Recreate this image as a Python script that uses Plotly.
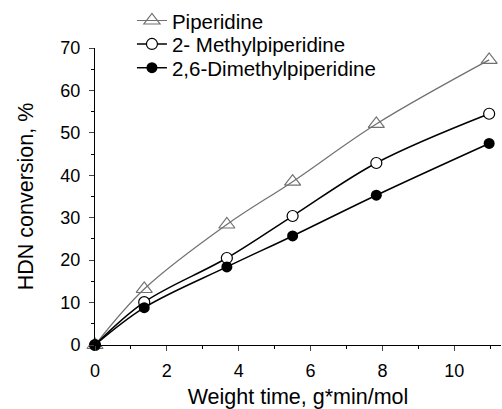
import plotly.graph_objects as go

weight_time = [0, 1.37, 3.67, 5.5, 7.83, 10.97]
piperidine = [0, 13.2, 28.4, 38.5, 52.1, 67.2]
methylpiperidine = [0, 10.1, 20.5, 30.4, 42.9, 54.5]
dimethylpiperidine = [0, 8.8, 18.4, 25.7, 35.3, 47.5]

names = ["Piperidine", "2- Methylpiperidine", "2,6-Dimethylpiperidine"]
x_ticks = [0, 2, 4, 6, 8, 10]
y_ticks = [0, 10, 20, 30, 40, 50, 60, 70]

fig = go.Figure()
fig.add_trace(go.Scatter(
    x=weight_time, y=piperidine, name=names[0], mode="lines+markers",
    line=dict(color="#707070", width=1.2, shape="spline"),
    marker=dict(symbol="triangle-up-open", size=14, color="#707070", line=dict(width=1.2)),
    cliponaxis=False, legend="legend"))
fig.add_trace(go.Scatter(
    x=weight_time, y=methylpiperidine, name=names[1], mode="lines+markers",
    line=dict(color="black", width=1.5, shape="spline"),
    marker=dict(symbol="circle", size=11, color="white", line=dict(width=1.2, color="black")),
    cliponaxis=False, legend="legend2"))
fig.add_trace(go.Scatter(
    x=weight_time, y=dimethylpiperidine, name=names[2], mode="lines+markers",
    line=dict(color="black", width=1.5, shape="spline"),
    marker=dict(symbol="circle", size=11, color="black"),
    cliponaxis=False, legend="legend3"))

font_family = "Liberation Sans, Arial, sans-serif"
leg_common = dict(x=0.091, xanchor="left", yanchor="middle",
                  bgcolor="rgba(0,0,0,0)", font=dict(size=20.5), itemwidth=30)
fig.update_layout(
    width=502, height=409,
    margin=dict(l=95, r=1, t=44, b=64),
    paper_bgcolor="white", plot_bgcolor="white",
    font=dict(family=font_family, size=18, color="black"),
    showlegend=True,
    legend=dict(y=1.092, **leg_common),
    legend2=dict(y=1.013, **leg_common),
    legend3=dict(y=0.933, **leg_common),
    xaxis=dict(range=[0, 11.3], tickvals=x_ticks, ticks="outside",
               ticklen=5, tickwidth=1, showline=True, linecolor="black", linewidth=1,
               showgrid=False, zeroline=False, automargin=False, ticklabelstandoff=4,
               minor=dict(dtick=1, ticks="outside", ticklen=3, tickcolor="black"),
               title=dict(text="Weight time, g*min/mol", standoff=14, font=dict(size=21.5)),
               tickfont=dict(size=18)),
    yaxis=dict(range=[0, 70], tickvals=y_ticks, ticks="outside",
               ticklen=5, tickwidth=1, showline=True, linecolor="black", linewidth=1,
               showgrid=False, zeroline=False, automargin=False, ticklabelstandoff=5,
               minor=dict(dtick=5, ticks="outside", ticklen=3, tickcolor="black"),
               title=dict(text="HDN conversion, %", standoff=20, font=dict(size=21.5)),
               tickfont=dict(size=18)),
)

fig.write_html("out.html", config={"displayModeBar": False},
               post_script="document.body.style.margin='0px';")
